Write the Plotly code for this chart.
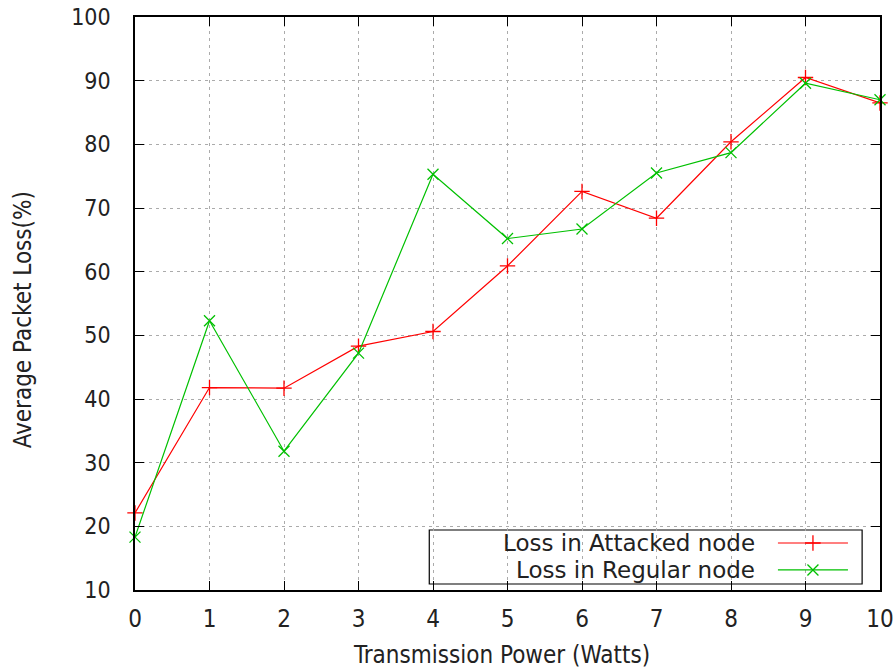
import plotly.graph_objects as go

# Transmission power settings (Watts)
power = [0, 1, 2, 3, 4, 5, 6, 7, 8, 9, 10]

# Average packet loss (%) per node type
loss_attacked = [22.1, 41.8, 41.7, 48.3, 50.6, 60.9, 72.6, 68.4, 80.4, 90.5, 86.5]
loss_regular = [18.3, 52.3, 31.8, 47.2, 75.3, 65.2, 66.7, 75.5, 78.7, 89.6, 87.0]

series_names = ["Loss in Attacked node", "Loss in Regular node"]
x_ticks = list(range(0, 11))
y_ticks = list(range(10, 101, 10))
x_title = "Transmission Power (Watts)"
y_title = "Average Packet Loss(%)"

RED = "#ff0000"
GREEN = "#00c000"
TEXT = "#222222"
FONT = "DejaVu Sans, sans-serif"
NARROW = "DejaVu Sans Condensed, DejaVu Sans, sans-serif"

fig = go.Figure()

fig.add_trace(go.Scatter(
    x=power, y=loss_attacked, mode="lines+markers", name=series_names[0],
    line=dict(color=RED, width=1.2),
    marker=dict(symbol="cross-thin", size=11, line=dict(color=RED, width=1.3)),
    showlegend=False, cliponaxis=False,
))
fig.add_trace(go.Scatter(
    x=power, y=loss_regular, mode="lines+markers", name=series_names[1],
    line=dict(color=GREEN, width=1.2),
    marker=dict(symbol="x-thin", size=11, line=dict(color=GREEN, width=1.3)),
    showlegend=False, cliponaxis=False,
))

# Key samples (line + symbol to the right of each label), drawn on a unit overlay axis
key_x = [0.863, 0.957]
key_rows = [0.082, 0.035]
for name, color, sym, yk in [(series_names[0], RED, "cross-thin", key_rows[0]),
                             (series_names[1], GREEN, "x-thin", key_rows[1])]:
    fig.add_trace(go.Scatter(
        x=key_x, y=[yk, yk], xaxis="x2", yaxis="y2", mode="lines",
        line=dict(color=color, width=1.2), showlegend=False, hoverinfo="skip",
    ))
    fig.add_trace(go.Scatter(
        x=[sum(key_x) / 2], y=[yk], xaxis="x2", yaxis="y2", mode="markers",
        marker=dict(symbol=sym, size=11, line=dict(color=color, width=1.3)),
        showlegend=False, hoverinfo="skip",
    ))
    fig.add_annotation(
        x=0.835, y=yk, xref="paper", yref="paper", text=name, showarrow=False,
        xanchor="right", yanchor="middle", font=dict(family=FONT, size=23, color=TEXT),
    )

# Key frame
fig.add_shape(type="rect", xref="paper", yref="paper",
              x0=0.395, x1=0.976, y0=0.0105, y1=0.1047,
              line=dict(color="black", width=1.2), fillcolor="white", layer="between")

# Axis titles
fig.add_annotation(x=0.4926, y=-0.1134, xref="paper", yref="paper", text=x_title,
                   showarrow=False, xanchor="center", yanchor="middle",
                   font=dict(family=NARROW, size=24, color=TEXT))
fig.add_annotation(x=-0.150, y=0.471, xref="paper", yref="paper", text=y_title,
                   showarrow=False, xanchor="center", yanchor="middle", textangle=-90,
                   font=dict(family=NARROW, size=24, color=TEXT))

axis_common = dict(
    showline=True, linecolor="black", linewidth=1.5, mirror="allticks",
    ticks="inside", ticklen=9, tickcolor="black", tickwidth=1.2,
    showgrid=True, gridcolor="#ababab", griddash="3px,4px", gridwidth=1.3,
    zeroline=False, automargin=False,
)

fig.update_layout(
    width=896, height=670,
    margin=dict(l=135, r=16, t=17, b=80),
    paper_bgcolor="white", plot_bgcolor="white",
    xaxis=dict(
        range=[0, 10], tickvals=x_ticks, ticktext=[str(v) for v in x_ticks],
        tickfont=dict(family=NARROW, size=24, color=TEXT),
        ticklabelstandoff=6,
        **axis_common,
    ),
    yaxis=dict(
        range=[10, 100], tickvals=y_ticks, ticktext=[str(v) for v in y_ticks],
        tickfont=dict(family=NARROW, size=23, color=TEXT),
        ticklabelstandoff=18,
        **axis_common,
    ),
    xaxis2=dict(range=[0, 1], overlaying="x", anchor="y2", visible=False),
    yaxis2=dict(range=[0, 1], overlaying="y", anchor="x2", visible=False),
)

fig.write_html("out.html")
